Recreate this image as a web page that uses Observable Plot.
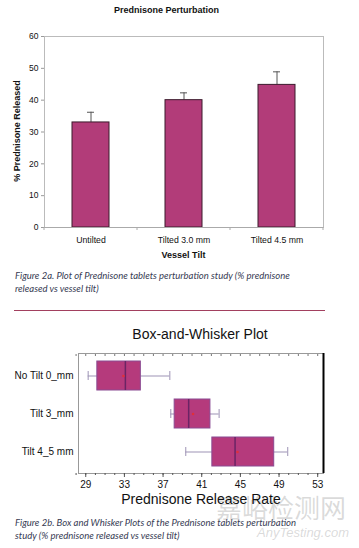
<!DOCTYPE html>
<html><head><meta charset="utf-8">
<script src="https://cdn.jsdelivr.net/npm/d3@7"></script>
<script src="https://cdn.jsdelivr.net/npm/@observablehq/plot@0.6"></script>
<style>
body{margin:0;width:359px;height:548px;position:relative;background:#fff;font-family:"Liberation Sans",Arial,sans-serif;overflow:hidden;color:#111}
.abs{position:absolute;white-space:nowrap}
.cap{font-family:Lato,"Open Sans",sans-serif;font-style:italic;font-size:9.5px;color:#363a52;line-height:12.5px;left:15px}
svg{position:absolute;left:0}
</style></head><body>
<div class="abs" style="left:0;width:333px;top:5px;text-align:center;font-weight:bold;font-size:9px">Prednisone Perturbation</div>
<div class="abs" style="left:17px;top:131px;transform:translate(-50%,-50%) rotate(-90deg);font-weight:bold;font-size:9px">% Prednisone Released</div>
<div class="abs" style="left:44px;width:279px;top:250px;text-align:center;font-weight:bold;font-size:9px">Vessel Tilt</div>
<div class="abs cap" style="top:270px">Figure 2a. Plot of Prednisone tablets perturbation study (% prednisone<br>released vs vessel tilt)</div>
<div class="abs" style="left:14px;width:311px;top:310px;height:0;border-top:1.6px solid #a2405f"></div>
<div class="abs" style="left:0;width:400px;top:326px;text-align:center;font-size:14px">Box-and-Whisker Plot</div>
<div class="abs" style="left:216px;top:488px;font-family:'Noto Sans CJK SC';font-size:26px;color:rgba(150,150,150,0.35)">嘉峪检测网</div>
<div class="abs" style="left:257px;top:525px;font-family:'Liberation Sans';font-style:italic;font-size:13px;color:rgba(150,150,150,0.35)">AnyTesting.com</div>
<div class="abs" style="left:0;width:402px;top:491px;text-align:center;font-size:14px">Prednisone Release Rate</div>
<div class="abs cap" style="top:517px">Figure 2b. Box and Whisker Plots of the Prednisone tablets perturbation<br>study (% prednisone released vs vessel tilt)</div>
<div id="c1"></div><div id="c2"></div>
<script>
// ---- Figure 2a data ----
const tiltCategories = ["Untilted", "Tilted 3.0 mm", "Tilted 4.5 mm"];
const percentReleased = [33, 40, 44.8];
const errorUpper = [3.2, 2.3, 4.1];
const yTicks = [0, 10, 20, 30, 40, 50, 60];

// ---- Figure 2b data ----
const boxGroups = ["No Tilt 0_mm", "Tilt 3_mm", "Tilt 4_5 mm"];
const whiskerLow = [29.25, 37.8, 39.35];
const quart1 = [30.2, 38.2, 42.1];
const medians = [33.1, 39.65, 44.45];
const quart3 = [34.7, 41.9, 48.5];
const whiskerHigh = [37.7, 42.8, 49.9];
const means = [32.9, 40.1, 44.7];
const xTicks = [29, 33, 37, 41, 45, 49, 53];
const xMinor = [28,29,30,31,32,33,34,35,36,37,38,39,40,41,42,43,44,45,46,47,48,49,50,51,52,53];

const bars = tiltCategories.map((c, i) => ({cat: c, v: percentReleased[i], hi: percentReleased[i] + errorUpper[i]}));

const boundaryTicks = (index, scales, values, dims) => {
  const g = d3.create("svg:g").attr("stroke", "#aaa");
  const w = (dims.width - dims.marginLeft - dims.marginRight) / tiltCategories.length;
  const yb = dims.height - dims.marginBottom;
  for (let i = 0; i <= tiltCategories.length; i++) {
    const x = dims.marginLeft + i * w;
    g.append("line").attr("x1", x).attr("x2", x).attr("y1", yb).attr("y2", yb + 3);
  }
  return g.node();
};

const p1 = Plot.plot({
  width: 359, height: 262,
  marginTop: 36, marginBottom: 35, marginLeft: 44, marginRight: 36,
  style: {fontFamily: "Liberation Sans, Arial, sans-serif", fontSize: "8.5px", color: "#111", background: "transparent"},
  x: {domain: tiltCategories, paddingInner: 0.6, paddingOuter: 0.3, label: null},
  y: {domain: [0, 60], label: null},
  marks: [
    Plot.frame({stroke: "#bbb"}),
    Plot.ruleX(bars, {x: "cat", y1: "v", y2: "hi", stroke: "#555"}),
    Plot.tickY(bars, {x: "cat", y: "hi", stroke: "#555", insetLeft: 15, insetRight: 15}),
    Plot.barY(bars, {x: "cat", y: "v", fill: "#b23c79", stroke: "#3b1a2c", strokeWidth: 1}),
    Plot.axisY({ticks: yTicks, tickSize: 3, tickPadding: 3, stroke: "#999"}),
    Plot.axisX({tickSize: 0, tickPadding: 9, fontSize: "8.7px"}),
    Plot.ruleY([0], {stroke: "#aaa"}),
    boundaryTicks
  ]
});
p1.style.top = "0px";
document.getElementById("c1").append(p1);

const boxes = boxGroups.map((g, i) => ({g, lo: whiskerLow[i], q1: quart1[i], med: medians[i], q3: quart3[i], hi: whiskerHigh[i], mean: means[i]}));
const xDomain = [28.25, 53.6];

const p2 = Plot.plot({
  width: 359, height: 190,
  marginTop: 33, marginBottom: 37, marginLeft: 78, marginRight: 36,
  style: {fontFamily: "Liberation Sans, Arial, sans-serif", fontSize: "10px", color: "#111", background: "transparent"},
  x: {domain: xDomain, label: null},
  y: {domain: boxGroups, paddingInner: 0.237, paddingOuter: 0.197, label: null},
  marks: [
    Plot.frame({stroke: "#999"}),
    Plot.ruleY(boxes, {y: "g", x1: "lo", x2: "q1", stroke: "#9d93b5"}),
    Plot.ruleY(boxes, {y: "g", x1: "q3", x2: "hi", stroke: "#9d93b5"}),
    Plot.tickX(boxes, {y: "g", x: "lo", stroke: "#9d93b5", insetTop: 10, insetBottom: 10}),
    Plot.tickX(boxes, {y: "g", x: "hi", stroke: "#9d93b5", insetTop: 10, insetBottom: 10}),
    Plot.barX(boxes, {y: "g", x1: "q1", x2: "q3", fill: "#b53a7c", stroke: "#8a4a92", strokeWidth: 1}),
    Plot.tickX(boxes, {y: "g", x: "med", stroke: "#6b2465", strokeWidth: 1.5}),
    Plot.dot(boxes, {y: "g", x: "mean", r: 1.3, fill: "#e0303a", stroke: null}),
    Plot.axisY({tickSize: 0, tickPadding: 5}),
    Plot.axisX({ticks: xTicks, tickSize: 4, tickPadding: 3, stroke: "#555"}),
    Plot.axisX({ticks: xMinor, tickSize: 2, tickFormat: () => "", stroke: "#555"}),
    Plot.axisX({anchor: "top", ticks: xMinor, tickSize: -2, tickFormat: () => "", stroke: "#777"}),
    Plot.ruleX([xDomain[1]], {stroke: "#000", strokeWidth: 2})
  ]
});
p2.style.top = "320px";
document.getElementById("c2").append(p2);
</script>
</body></html>
